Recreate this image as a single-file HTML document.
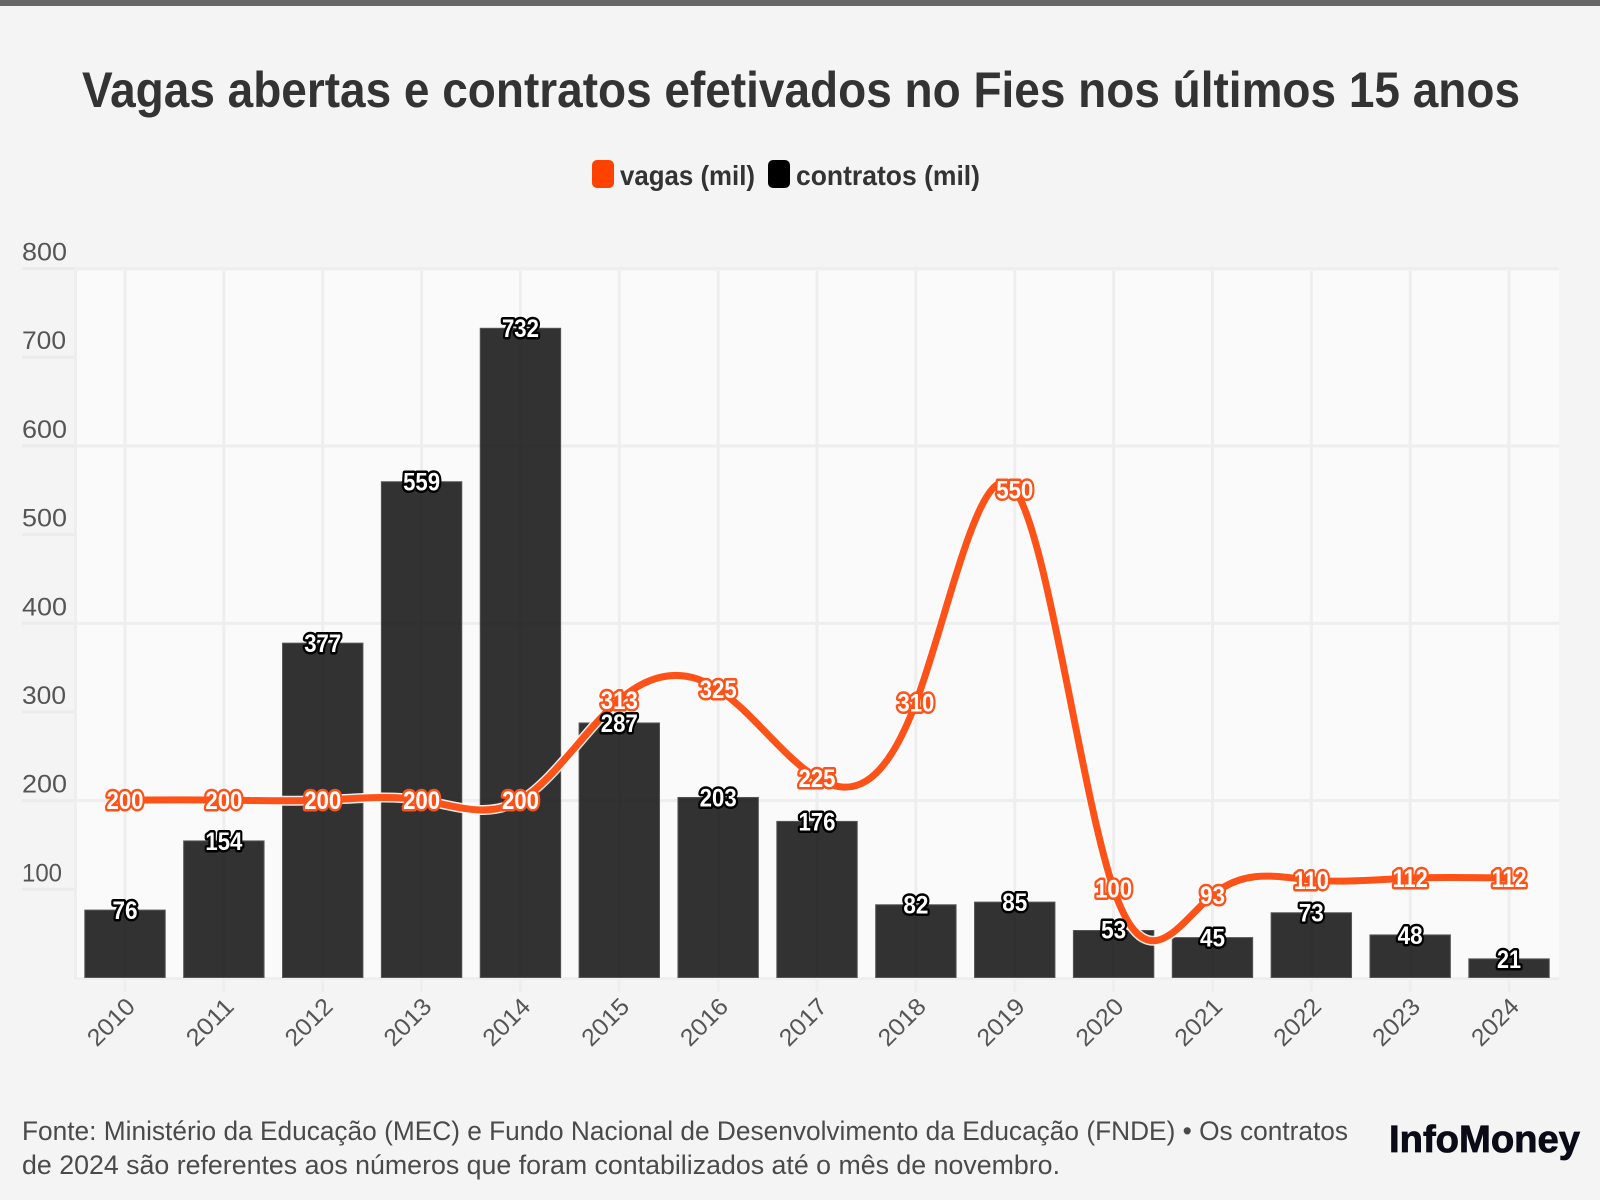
<!DOCTYPE html>
<html>
<head>
<meta charset="utf-8">
<style>
  html, body { margin: 0; padding: 0; background: #f4f4f4; }
  svg { display: block; }
  text { font-family: "Liberation Sans", "DejaVu Sans", sans-serif; }
  .yl { font-size: 25px; fill: #555; }
  .xl { font-size: 24px; fill: #555; }
  .ol { font-size: 25px; font-weight: bold; fill: #fff; stroke: #ff5218; stroke-width: 5px; paint-order: stroke; stroke-linejoin: round; text-anchor: middle; }
  .bl { font-size: 25px; font-weight: bold; fill: #fff; stroke: #000; stroke-width: 5px; paint-order: stroke; stroke-linejoin: round; text-anchor: middle; }
</style>
</head>
<body>
<svg width="1600" height="1200" viewBox="0 0 1600 1200" xmlns="http://www.w3.org/2000/svg">
  <rect x="0" y="0" width="1600" height="1200" fill="#f4f4f4"/>
  <rect x="0" y="0" width="1600" height="6" fill="#676767"/>

  <!-- Title -->
  <text x="82" y="107" font-size="50" font-weight="bold" fill="#333" textLength="1438" lengthAdjust="spacingAndGlyphs">Vagas abertas e contratos efetivados no Fies nos últimos 15 anos</text>

  <!-- Legend -->
  <rect x="592" y="160" width="22" height="28" rx="5" fill="#ff4200"/>
  <text x="620" y="185" font-size="28" font-weight="bold" fill="#333" textLength="135" lengthAdjust="spacingAndGlyphs">vagas (mil)</text>
  <rect x="768" y="160" width="22" height="28" rx="5" fill="#000"/>
  <text x="796" y="185" font-size="28" font-weight="bold" fill="#333" textLength="184" lengthAdjust="spacingAndGlyphs">contratos (mil)</text>

  <!-- Plot background -->
  <rect x="77" y="271" width="1482" height="706" fill="#fafafa"/>

  <!-- Y tick lines (outside plot) -->
  <g fill="#ebebeb">
    <rect x="22" y="267" width="55" height="3"/>
    <rect x="22" y="355.7" width="55" height="3"/>
    <rect x="22" y="444.4" width="55" height="3"/>
    <rect x="22" y="533.1" width="55" height="3"/>
    <rect x="22" y="621.8" width="55" height="3"/>
    <rect x="22" y="710.4" width="55" height="3"/>
    <rect x="22" y="799.1" width="55" height="3"/>
    <rect x="22" y="887.8" width="55" height="3"/>
  </g>
  <!-- horizontal gridlines in plot -->
  <g fill="#eeeeee">
    <rect x="74" y="267" width="1485" height="3"/>
    <rect x="74" y="444.4" width="1485" height="3"/>
    <rect x="74" y="621.8" width="1485" height="3"/>
    <rect x="74" y="799.1" width="1485" height="3"/>
    <rect x="74" y="977.3" width="1485" height="2.7"/>
    <rect x="74" y="267" width="3" height="712"/>
  </g>
  <!-- vertical gridlines + ticks -->
  <g fill="#eeeeee">
    <rect x="123.5" y="271" width="3" height="721"/>
    <rect x="222.36" y="271" width="3" height="721"/>
    <rect x="321.22" y="271" width="3" height="721"/>
    <rect x="420.08" y="271" width="3" height="721"/>
    <rect x="518.94" y="271" width="3" height="721"/>
    <rect x="617.8" y="271" width="3" height="721"/>
    <rect x="716.66" y="271" width="3" height="721"/>
    <rect x="815.52" y="271" width="3" height="721"/>
    <rect x="914.38" y="271" width="3" height="721"/>
    <rect x="1013.24" y="271" width="3" height="721"/>
    <rect x="1112.1" y="271" width="3" height="721"/>
    <rect x="1210.96" y="271" width="3" height="721"/>
    <rect x="1309.82" y="271" width="3" height="721"/>
    <rect x="1408.68" y="271" width="3" height="721"/>
    <rect x="1507.54" y="271" width="3" height="721"/>
  </g>

  <!-- Y labels -->
  <text class="yl" x="22" y="260.5" textLength="45" lengthAdjust="spacingAndGlyphs">800</text>
  <text class="yl" x="22" y="349.2" textLength="44" lengthAdjust="spacingAndGlyphs">700</text>
  <text class="yl" x="22" y="437.9" textLength="45" lengthAdjust="spacingAndGlyphs">600</text>
  <text class="yl" x="22" y="526.6" textLength="45" lengthAdjust="spacingAndGlyphs">500</text>
  <text class="yl" x="22" y="615.3" textLength="45" lengthAdjust="spacingAndGlyphs">400</text>
  <text class="yl" x="22" y="703.9" textLength="44" lengthAdjust="spacingAndGlyphs">300</text>
  <text class="yl" x="22" y="792.6" textLength="45" lengthAdjust="spacingAndGlyphs">200</text>
  <text class="yl" x="22" y="881.3" textLength="40" lengthAdjust="spacingAndGlyphs">100</text>

  <!-- Bars -->
  <g fill="rgba(0,0,0,0.8)" stroke="#555" stroke-width="1">
    <rect x="84.8" y="910.1" width="80.4" height="67.4"/>
    <rect x="183.66" y="840.92" width="80.4" height="136.58"/>
    <rect x="282.52" y="643.15" width="80.4" height="334.35"/>
    <rect x="381.38" y="481.73" width="80.4" height="495.77"/>
    <rect x="480.24" y="328.3" width="80.4" height="649.2"/>
    <rect x="579.1" y="722.97" width="80.4" height="254.53"/>
    <rect x="677.96" y="797.46" width="80.4" height="180.04"/>
    <rect x="776.82" y="821.41" width="80.4" height="156.09"/>
    <rect x="875.68" y="904.78" width="80.4" height="72.72"/>
    <rect x="974.54" y="902.12" width="80.4" height="75.38"/>
    <rect x="1073.4" y="930.5" width="80.4" height="47"/>
    <rect x="1172.26" y="937.59" width="80.4" height="39.91"/>
    <rect x="1271.12" y="912.76" width="80.4" height="64.74"/>
    <rect x="1369.98" y="934.93" width="80.4" height="42.57"/>
    <rect x="1468.84" y="958.88" width="80.4" height="18.62"/>
  </g>

  <!-- Line (natural spline) -->
  <path d="M125,800.12 C157.95,799.92 190.91,799.73 223.86,800.12 C256.81,800.52 289.77,801.52 322.72,800.12 C355.67,798.73 388.63,794.96 421.58,800.12 C454.53,805.29 487.49,819.40 520.44,800.12 C553.39,780.85 586.35,728.20 619.3,699.91 C652.25,671.61 685.21,667.67 718.16,689.26 C751.11,710.86 784.07,757.99 817.02,777.95 C849.97,797.91 882.93,790.70 915.88,702.57 C948.83,614.44 981.79,445.38 1014.74,489.72 C1047.69,534.05 1080.65,791.77 1113.6,888.81 C1146.55,985.86 1179.51,922.23 1212.46,895.02 C1245.41,867.81 1278.37,877.02 1311.32,879.94 C1344.27,882.87 1377.23,879.51 1410.18,878.17 C1443.13,876.83 1476.09,877.50 1509.04,878.17" fill="none" stroke="#ffffff" stroke-width="10" stroke-linecap="round" stroke-linejoin="round" opacity="0.9"/>
  <path d="M125,800.12 C157.95,799.92 190.91,799.73 223.86,800.12 C256.81,800.52 289.77,801.52 322.72,800.12 C355.67,798.73 388.63,794.96 421.58,800.12 C454.53,805.29 487.49,819.40 520.44,800.12 C553.39,780.85 586.35,728.20 619.3,699.91 C652.25,671.61 685.21,667.67 718.16,689.26 C751.11,710.86 784.07,757.99 817.02,777.95 C849.97,797.91 882.93,790.70 915.88,702.57 C948.83,614.44 981.79,445.38 1014.74,489.72 C1047.69,534.05 1080.65,791.77 1113.6,888.81 C1146.55,985.86 1179.51,922.23 1212.46,895.02 C1245.41,867.81 1278.37,877.02 1311.32,879.94 C1344.27,882.87 1377.23,879.51 1410.18,878.17 C1443.13,876.83 1476.09,877.50 1509.04,878.17" fill="none" stroke="#ff5218" stroke-width="7" stroke-linecap="round" stroke-linejoin="round"/>

  <!-- Line labels -->
  <g>
    <text class="ol" x="125" y="809" textLength="37" lengthAdjust="spacingAndGlyphs">200</text>
    <text class="ol" x="223.86" y="809" textLength="37" lengthAdjust="spacingAndGlyphs">200</text>
    <text class="ol" x="322.72" y="809" textLength="37" lengthAdjust="spacingAndGlyphs">200</text>
    <text class="ol" x="421.58" y="809" textLength="37" lengthAdjust="spacingAndGlyphs">200</text>
    <text class="ol" x="520.44" y="809" textLength="37" lengthAdjust="spacingAndGlyphs">200</text>
    <text class="ol" x="619.3" y="708.8" textLength="37" lengthAdjust="spacingAndGlyphs">313</text>
    <text class="ol" x="718.16" y="698.2" textLength="37" lengthAdjust="spacingAndGlyphs">325</text>
    <text class="ol" x="817.02" y="786.9" textLength="37" lengthAdjust="spacingAndGlyphs">225</text>
    <text class="ol" x="915.88" y="711.5" textLength="37" lengthAdjust="spacingAndGlyphs">310</text>
    <text class="ol" x="1014.74" y="498.6" textLength="37" lengthAdjust="spacingAndGlyphs">550</text>
    <text class="ol" x="1113.6" y="897.7" textLength="37" lengthAdjust="spacingAndGlyphs">100</text>
    <text class="ol" x="1212.46" y="903.9" textLength="25" lengthAdjust="spacingAndGlyphs">93</text>
    <text class="ol" x="1311.32" y="888.9" textLength="35" lengthAdjust="spacingAndGlyphs">110</text>
    <text class="ol" x="1410.18" y="887.1" textLength="35" lengthAdjust="spacingAndGlyphs">112</text>
    <text class="ol" x="1509.04" y="887.1" textLength="35" lengthAdjust="spacingAndGlyphs">112</text>
  </g>

  <!-- Bar labels -->
  <g>
    <text class="bl" x="125" y="919" textLength="25" lengthAdjust="spacingAndGlyphs">76</text>
    <text class="bl" x="223.86" y="849.8" textLength="37" lengthAdjust="spacingAndGlyphs">154</text>
    <text class="bl" x="322.72" y="652.1" textLength="37" lengthAdjust="spacingAndGlyphs">377</text>
    <text class="bl" x="421.58" y="490.6" textLength="37" lengthAdjust="spacingAndGlyphs">559</text>
    <text class="bl" x="520.44" y="337.2" textLength="37" lengthAdjust="spacingAndGlyphs">732</text>
    <text class="bl" x="619.3" y="731.9" textLength="37" lengthAdjust="spacingAndGlyphs">287</text>
    <text class="bl" x="718.16" y="806.4" textLength="37" lengthAdjust="spacingAndGlyphs">203</text>
    <text class="bl" x="817.02" y="830.3" textLength="37" lengthAdjust="spacingAndGlyphs">176</text>
    <text class="bl" x="915.88" y="913.7" textLength="25" lengthAdjust="spacingAndGlyphs">82</text>
    <text class="bl" x="1014.74" y="911" textLength="25" lengthAdjust="spacingAndGlyphs">85</text>
    <text class="bl" x="1113.6" y="938.5" textLength="25" lengthAdjust="spacingAndGlyphs">53</text>
    <text class="bl" x="1212.46" y="946.5" textLength="25" lengthAdjust="spacingAndGlyphs">45</text>
    <text class="bl" x="1311.32" y="921.7" textLength="25" lengthAdjust="spacingAndGlyphs">73</text>
    <text class="bl" x="1410.18" y="943.8" textLength="25" lengthAdjust="spacingAndGlyphs">48</text>
    <text class="bl" x="1509.04" y="967.8" textLength="24" lengthAdjust="spacingAndGlyphs">21</text>
  </g>

  <!-- X labels -->
  <g class="xlabels">
    <text class="xl" text-anchor="end" transform="translate(136.5,1008) rotate(-45)" textLength="56" lengthAdjust="spacingAndGlyphs">2010</text>
    <text class="xl" text-anchor="end" transform="translate(235.36,1008) rotate(-45)" textLength="56" lengthAdjust="spacingAndGlyphs">2011</text>
    <text class="xl" text-anchor="end" transform="translate(334.22,1008) rotate(-45)" textLength="56" lengthAdjust="spacingAndGlyphs">2012</text>
    <text class="xl" text-anchor="end" transform="translate(433.08,1008) rotate(-45)" textLength="56" lengthAdjust="spacingAndGlyphs">2013</text>
    <text class="xl" text-anchor="end" transform="translate(531.94,1008) rotate(-45)" textLength="56" lengthAdjust="spacingAndGlyphs">2014</text>
    <text class="xl" text-anchor="end" transform="translate(630.8,1008) rotate(-45)" textLength="56" lengthAdjust="spacingAndGlyphs">2015</text>
    <text class="xl" text-anchor="end" transform="translate(729.66,1008) rotate(-45)" textLength="56" lengthAdjust="spacingAndGlyphs">2016</text>
    <text class="xl" text-anchor="end" transform="translate(828.52,1008) rotate(-45)" textLength="56" lengthAdjust="spacingAndGlyphs">2017</text>
    <text class="xl" text-anchor="end" transform="translate(927.38,1008) rotate(-45)" textLength="56" lengthAdjust="spacingAndGlyphs">2018</text>
    <text class="xl" text-anchor="end" transform="translate(1026.24,1008) rotate(-45)" textLength="56" lengthAdjust="spacingAndGlyphs">2019</text>
    <text class="xl" text-anchor="end" transform="translate(1125.1,1008) rotate(-45)" textLength="56" lengthAdjust="spacingAndGlyphs">2020</text>
    <text class="xl" text-anchor="end" transform="translate(1223.96,1008) rotate(-45)" textLength="56" lengthAdjust="spacingAndGlyphs">2021</text>
    <text class="xl" text-anchor="end" transform="translate(1322.82,1008) rotate(-45)" textLength="56" lengthAdjust="spacingAndGlyphs">2022</text>
    <text class="xl" text-anchor="end" transform="translate(1421.68,1008) rotate(-45)" textLength="56" lengthAdjust="spacingAndGlyphs">2023</text>
    <text class="xl" text-anchor="end" transform="translate(1520.54,1008) rotate(-45)" textLength="56" lengthAdjust="spacingAndGlyphs">2024</text>
  </g>

  <!-- Footer -->
  <text x="22" y="1140" font-size="27" fill="#4a4a4a" textLength="1326" lengthAdjust="spacingAndGlyphs">Fonte: Ministério da Educação (MEC) e Fundo Nacional de Desenvolvimento da Educação (FNDE) • Os contratos</text>
  <text x="22" y="1174" font-size="27" fill="#4a4a4a" textLength="1038" lengthAdjust="spacingAndGlyphs">de 2024 são referentes aos números que foram contabilizados até o mês de novembro.</text>

  <!-- Logo -->
  <text x="1389" y="1152" font-size="38" font-weight="bold" fill="#0b0b17" stroke="#0b0b17" stroke-width="0.8" textLength="191" lengthAdjust="spacingAndGlyphs">InfoMoney</text>
</svg>
</body>
</html>
